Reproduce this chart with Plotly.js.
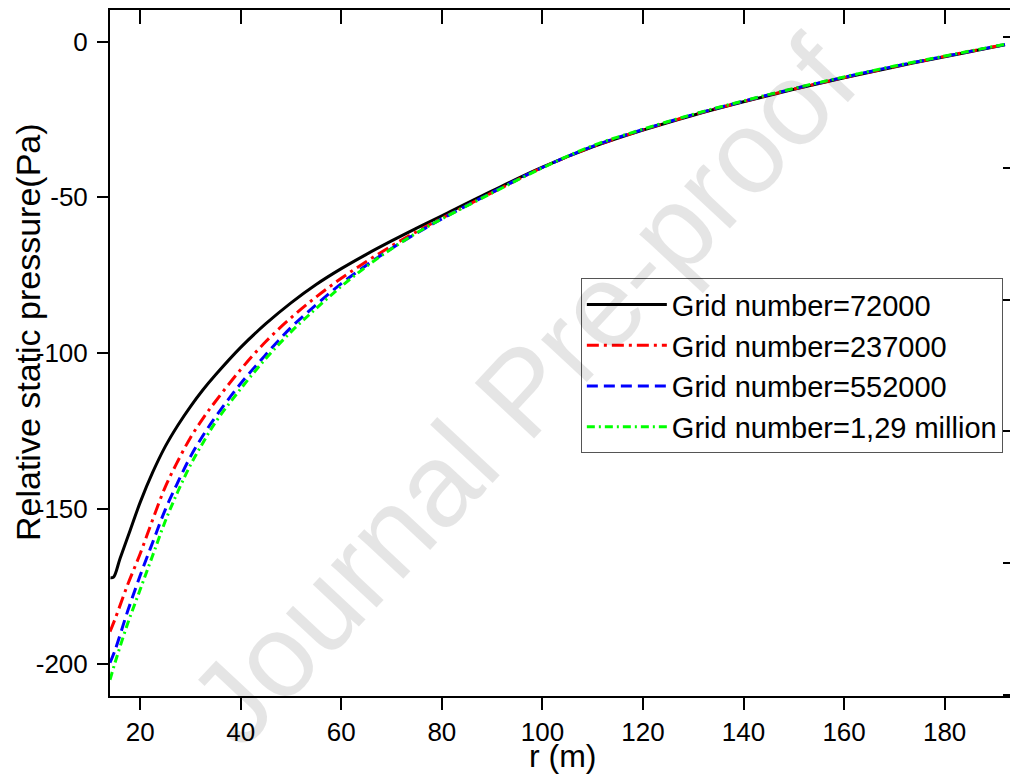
<!DOCTYPE html>
<html>
<head>
<meta charset="utf-8">
<script src="https://cdn.plot.ly/plotly-3.0.1.min.js"></script>
<style>
  html, body { margin: 0; padding: 0; overflow: hidden; background: #fff; }
  #chart { width: 1012px; height: 776px; }
</style>
</head>
<body>
<div id="chart"></div>
<script>
// r (m) sample positions
const rBlack = [14.1, 14.7, 16, 18, 20, 22.5, 25, 27.5, 30, 32.5, 35, 40, 45, 50, 55, 60, 65, 70, 75, 80, 90, 100, 110, 120, 130, 140, 150, 160, 170, 180, 186, 192];
const rFine  = [14, 15, 17.5, 20, 22.5, 25, 27.5, 30, 32.5, 35, 40, 45, 50, 55, 60, 65, 70, 75, 80, 90, 100, 110, 120, 130, 140, 150, 160, 170, 180, 186, 192];

// Relative static pressure (Pa)
const p72000   = [-172.2, -172.0, -166.0, -157.0, -148.0, -138.3, -130.0, -123.2, -117.2, -111.8, -107.0, -98.2, -90.6, -83.9, -78.0, -72.9, -68.3, -64.0, -59.9, -55.9, -47.9, -40.3, -33.8, -28.4, -23.6, -19.3, -15.3, -11.6, -8.1, -4.8, -2.9, -1.0];
const p237000  = [-189.5, -185.5, -174.5, -164.5, -153.5, -143, -134.7, -127.2, -121, -115.5, -105.3, -96.3, -88.7, -82.0, -76.0, -70.6, -65.6, -61.0, -56.7, -48.5, -40.4, -33.7, -28.3, -23.5, -19.2, -15.2, -11.5, -8.0, -4.7, -2.8, -0.9];
const p552000  = [-199.5, -195.5, -183, -171.5, -160.8, -150.3, -141.5, -133.3, -126.5, -120.5, -109.8, -100.5, -91.8, -84.5, -77.7, -71.8, -66.4, -61.5, -56.9, -48.4, -40.4, -33.6, -28.2, -23.4, -19.1, -15.1, -11.4, -7.9, -4.7, -2.8, -0.9];
const p129m    = [-205, -199.5, -187, -176, -165, -154, -144.5, -136, -128.8, -122.2, -111.5, -101.8, -93.2, -85.7, -78.6, -72.2, -66.5, -61.4, -56.9, -48.6, -40.5, -33.4, -28.1, -23.3, -19.0, -15.0, -11.3, -7.8, -4.6, -2.7, -0.8];

const seriesNames = ['Grid number=72000', 'Grid number=237000', 'Grid number=552000', 'Grid number=1,29 million'];

const xTickVals = [20, 40, 60, 80, 100, 120, 140, 160, 180];
const xTickText = ['20', '40', '60', '80', '100', '120', '140', '160', '180'];
const yTickVals = [0, -50, -100, -150, -200];
const yTickText = ['0', '-50', '-100', '-150', '-200'];

const xTitle = 'r (m)';
const yTitle = 'Relative static pressure(Pa)';
const watermark = 'Journal Pre-proof';

const FONT = 'Liberation Sans, Arial, sans-serif';
const xRange = [14.0, 193.4];
const yRange = [-210.2, 10.2];

const traces = [
  { x: rBlack, y: p72000, name: seriesNames[0], mode: 'lines', legendgroup: 'a',
    line: { color: '#000000', width: 3, shape: 'spline', smoothing: 1 } },
  { x: rFine, y: p237000, name: seriesNames[1], mode: 'lines', legendgroup: 'b',
    line: { color: '#ff0000', width: 3, dash: '12px,5px,3px,5px', shape: 'spline', smoothing: 1 } },
  { x: rFine, y: p552000, name: seriesNames[2], mode: 'lines', legendgroup: 'c',
    line: { color: '#0000ff', width: 3, dash: '11px,6px', shape: 'spline', smoothing: 1 } },
  { x: rFine, y: p129m, name: seriesNames[3], mode: 'lines', legendgroup: 'd',
    line: { color: '#00ff00', width: 3, dash: '8px,4px,2px,4px', shape: 'spline', smoothing: 1 } },
  { x: [null], y: [null], xaxis: 'x2', yaxis: 'y2', showlegend: false, hoverinfo: 'skip', mode: 'lines' }
];

const layout = {
  width: 1012, height: 776,
  margin: { l: 110, r: 0, t: 10, b: 80 },
  paper_bgcolor: '#ffffff', plot_bgcolor: '#ffffff',
  font: { family: FONT, color: '#000000', size: 26 },
  showlegend: true,
  legend: {
    x: 0.522, y: 0.609, xanchor: 'left', yanchor: 'top',
    bgcolor: '#ffffff', bordercolor: '#555555', borderwidth: 1,
    font: { family: FONT, size: 29, color: '#000000' },
    itemwidth: 80, traceorder: 'grouped', tracegroupgap: 0
  },
  xaxis: {
    range: xRange, tickvals: xTickVals, ticktext: xTickText,
    showgrid: false, zeroline: false, showline: true, linecolor: '#000', linewidth: 2,
    ticks: 'outside', ticklen: 12, tickwidth: 2, tickcolor: '#000',
    tickfont: { family: FONT, size: 26, color: '#000' }
  },
  yaxis: {
    range: yRange, tickvals: yTickVals, ticktext: yTickText,
    showgrid: false, zeroline: false, showline: true, linecolor: '#000', linewidth: 2,
    ticks: 'outside', ticklen: 11, tickwidth: 2, tickcolor: '#000',
    tickfont: { family: FONT, size: 26, color: '#000' },
    ticklabelstandoff: 4
  },
  xaxis2: {
    overlaying: 'x', side: 'top', anchor: 'y2', range: xRange, tickvals: xTickVals,
    showticklabels: false, showgrid: false, zeroline: false,
    showline: true, linecolor: '#000', linewidth: 2,
    ticks: 'inside', ticklen: 14, tickwidth: 2, tickcolor: '#000'
  },
  yaxis2: {
    overlaying: 'y', side: 'right', anchor: 'x2', range: [-0.0114, 5.205], tick0: 0, dtick: 1,
    showticklabels: false, showgrid: false, zeroline: false,
    showline: true, linecolor: '#000', linewidth: 2,
    ticks: 'inside', ticklen: 9, tickwidth: 2, tickcolor: '#000'
  },
  annotations: [
    { text: xTitle, xref: 'paper', yref: 'paper', x: 0.502, y: -0.088,
      xanchor: 'center', yanchor: 'middle', showarrow: false,
      font: { family: FONT, size: 32, color: '#000' } },
    { text: yTitle, xref: 'paper', yref: 'paper', x: -0.0909, y: 0.5306,
      xanchor: 'center', yanchor: 'middle', textangle: -90, showarrow: false,
      font: { family: FONT, size: 34, color: '#000' } },
    { text: watermark, xref: 'paper', yref: 'paper', x: 0.457, y: 0.445,
      xanchor: 'center', yanchor: 'middle', textangle: -47, showarrow: false,
      font: { family: FONT, size: 118, color: 'rgba(0,0,0,0.1)' } }
  ]
};

Plotly.newPlot('chart', traces, layout, { displayModeBar: false, staticPlot: true });
</script>
</body>
</html>
